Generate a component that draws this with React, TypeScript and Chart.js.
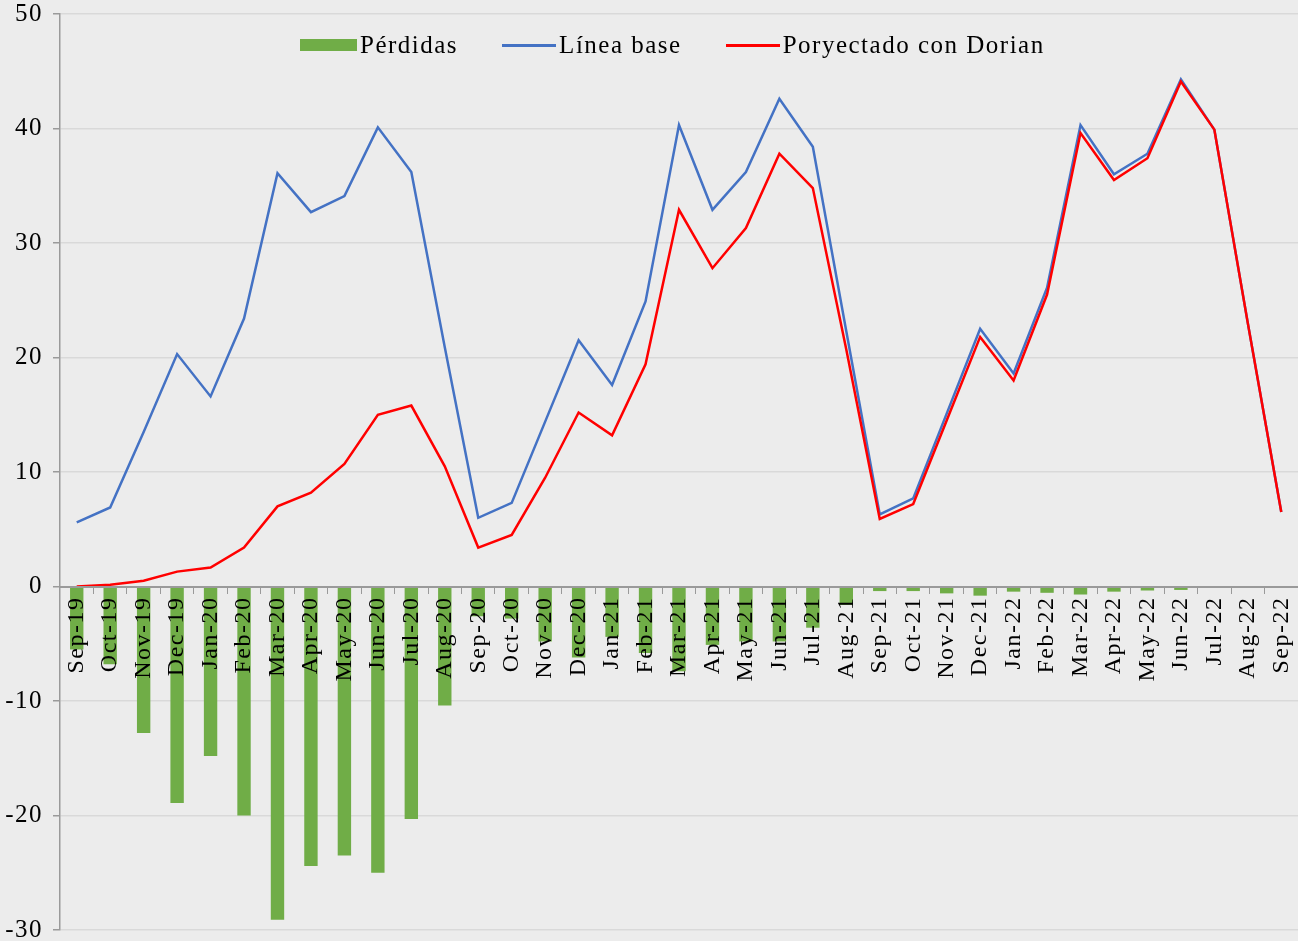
import React, { useEffect, useRef } from "react";
import { Chart, registerables } from "chart.js";

Chart.register(...registerables);

const categories = [
  "Sep-19", "Oct-19", "Nov-19", "Dec-19", "Jan-20", "Feb-20", "Mar-20", "Apr-20", "May-20", "Jun-20",
  "Jul-20", "Aug-20", "Sep-20", "Oct-20", "Nov-20", "Dec-20", "Jan-21", "Feb-21", "Mar-21", "Apr-21",
  "May-21", "Jun-21", "Jul-21", "Aug-21", "Sep-21", "Oct-21", "Nov-21", "Dec-21", "Jan-22", "Feb-22",
  "Mar-22", "Apr-22", "May-22", "Jun-22", "Jul-22", "Aug-22", "Sep-22",
];

const perdidas = [
  -5.5, -6.8, -12.8, -18.9, -14.8, -20.0, -29.1, -24.4, -23.5, -25.0,
  -20.3, -10.4, -2.6, -2.8, -4.8, -6.2, -4.4, -5.8, -7.4, -5.1,
  -4.8, -4.8, -3.6, -1.6, -0.4, -0.4, -0.6, -0.8, -0.45, -0.55,
  -0.7, -0.45, -0.35, -0.3, -0.1, -0.02, 0,
];

const lineaBase = [
  5.6, 6.9, 13.5, 20.3, 16.6, 23.4, 36.1, 32.7, 34.1, 40.1,
  36.2, 20.9, 6.0, 7.3, 14.4, 21.5, 17.6, 24.9, 40.3, 32.9,
  36.2, 42.6, 38.4, 22.3, 6.3, 7.7, 15.1, 22.5, 18.6, 26.1,
  40.3, 36.0, 37.8, 44.3, 39.9, 23.0, 6.5,
];

const proyectado = [
  0.0, 0.15, 0.5, 1.3, 1.65, 3.4, 7.0, 8.2, 10.7, 15.0,
  15.8, 10.5, 3.4, 4.5, 9.5, 15.2, 13.2, 19.4, 32.9, 27.8,
  31.3, 37.8, 34.8, 20.7, 5.9, 7.2, 14.5, 21.8, 18.0, 25.5,
  39.6, 35.5, 37.4, 44.1, 39.9, 23.0, 6.5,
];

const seriesNames = ["Pérdidas", "Línea base", "Poryectado con Dorian"];
const yMin = -30;
const yMax = 50;
const yStep = 10;

const GREEN = "#70AD47";
const BLUE = "#4472C4";
const RED = "#FF0000";
const BG = "#ECECEC";
const GRID = "#D9D9D9";
const AXIS = "#9A9A9A";
const FONT = "'Liberation Serif', 'Times New Roman', serif";
const LS = "1.5px";

export default function App() {
  const ref = useRef<HTMLCanvasElement>(null);

  useEffect(() => {
    const spacing = {
      id: "letterSpacing",
      beforeUpdate(c: any) {
        c.ctx.letterSpacing = LS;
      },
      beforeDraw(c: any) {
        c.ctx.letterSpacing = LS;
      },
    };
    const chart = new Chart(ref.current as HTMLCanvasElement, {
      data: {
        labels: categories,
        datasets: [
          {
            type: "bar",
            label: seriesNames[0],
            data: perdidas,
            backgroundColor: GREEN,
            borderWidth: 0,
            categoryPercentage: 1,
            barPercentage: 0.4,
            order: 3,
          } as any,
          {
            type: "line",
            label: seriesNames[1],
            data: lineaBase,
            borderColor: BLUE,
            backgroundColor: BLUE,
            borderWidth: 2.5,
            pointRadius: 0,
            tension: 0,
            fill: false,
            order: 2,
          },
          {
            type: "line",
            label: seriesNames[2],
            data: proyectado,
            borderColor: RED,
            backgroundColor: RED,
            borderWidth: 2.5,
            pointRadius: 0,
            tension: 0,
            fill: false,
            order: 1,
          },
        ],
      },
      options: {
        responsive: false,
        animation: false,
        layout: { padding: { top: 14, bottom: 11, left: 0, right: 0 } },
        plugins: {
          legend: { display: false },
          tooltip: { enabled: false },
        },
        scales: {
          x: {
            type: "category",
            position: { y: 0 } as any,
            offset: true,
            grid: {
              display: true,
              drawOnChartArea: false,
              drawTicks: true,
              tickLength: 6,
              offset: true,
              color: AXIS,
              tickColor: AXIS,
              z: 1,
            } as any,
            border: { display: true, color: AXIS, width: 2, z: 1 } as any,
            ticks: {
              autoSkip: false,
              minRotation: 90,
              maxRotation: 90,
              padding: 4,
              color: "#000",
              z: 2,
              font: { family: FONT, size: 24 },
            },
            afterFit: (s: any) => {
              s.height = 0;
              s.paddingLeft = 0;
              s.paddingRight = 0;
            },
          },
          y: {
            min: yMin,
            max: yMax,
            ticks: {
              stepSize: yStep,
              padding: 10,
              color: "#000",
              font: { family: FONT, size: 25 },
            },
            grid: {
              color: GRID,
              tickColor: AXIS,
              tickLength: 7,
              lineWidth: 1.5,
            },
            border: { display: true, color: AXIS, width: 1.5 },
            afterFit: (s: any) => {
              s.width = 60;
              s.paddingTop = 0;
              s.paddingBottom = 0;
            },
          },
        },
      },
      plugins: [spacing],
    });
    return () => chart.destroy();
  }, []);

  const legendItems = [
    { name: seriesNames[0], color: GREEN, kind: "box" },
    { name: seriesNames[1], color: BLUE, kind: "line" },
    { name: seriesNames[2], color: RED, kind: "line" },
  ];

  return (
    <div
      style={{
        position: "fixed",
        left: 0,
        top: 0,
        width: 1298,
        height: 941,
        background: BG,
        overflow: "hidden",
      }}
    >
      <canvas ref={ref} width={1298} height={941} style={{ display: "block" }} />
      <div
        style={{
          position: "absolute",
          left: 300,
          top: 30,
          height: 30,
          display: "flex",
          alignItems: "center",
          fontFamily: FONT,
          fontSize: 25,
          letterSpacing: LS,
          lineHeight: "30px",
          color: "#000",
          whiteSpace: "nowrap",
        }}
      >
        {legendItems.map((it, i) => (
          <div
            key={it.name}
            style={{ display: "flex", alignItems: "center", marginLeft: i === 0 ? 0 : 44 }}
          >
            <span
              style={{
                display: "inline-block",
                width: it.kind === "box" ? 57 : 54,
                height: it.kind === "box" ? 12 : 3,
                background: it.color,
                marginRight: 3,
              }}
            />
            <span>{it.name}</span>
          </div>
        ))}
      </div>
    </div>
  );
}
